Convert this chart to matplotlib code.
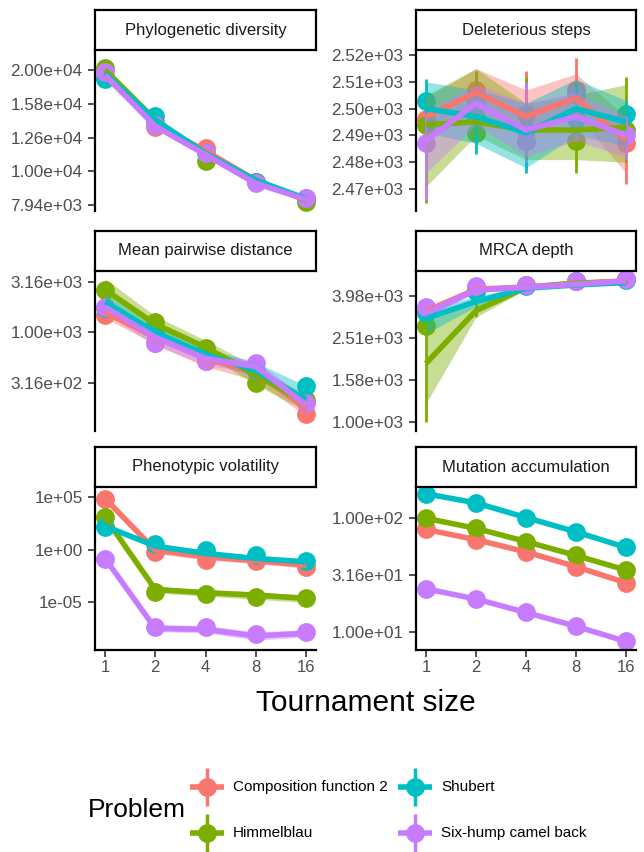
import matplotlib
matplotlib.use("Agg")
import matplotlib.pyplot as plt
from matplotlib.ticker import FixedLocator, NullLocator, FixedFormatter

plt.rcParams['font.family'] = ['Liberation Sans', 'DejaVu Sans']

tournament_sizes = [1, 2, 4, 8, 16]
problems = ["Composition function 2", "Himmelblau", "Shubert", "Six-hump camel back"]
colors = ["#F8766D", "#7CAE00", "#00BFC4", "#C77CFF"]

# ---- Phylogenetic diversity
phylo_pts = {
    "Composition function 2": [1.90e4, 1.35e4, 1.17e4, 9.3e3, 8.2e3],
    "Himmelblau": [2.03e4, 1.40e4, 1.07e4, 9.3e3, 8.1e3],
    "Shubert": [1.88e4, 1.46e4, 1.13e4, 9.3e3, 8.35e3],
    "Six-hump camel back": [1.97e4, 1.37e4, 1.13e4, 9.25e3, 8.3e3],
}
phylo_line = {
    "Composition function 2": [1.92e4, 1.38e4, 1.15e4, 9.4e3, 8.25e3],
    "Himmelblau": [2.00e4, 1.42e4, 1.12e4, 9.4e3, 8.2e3],
    "Shubert": [1.95e4, 1.42e4, 1.13e4, 9.4e3, 8.3e3],
    "Six-hump camel back": [1.93e4, 1.36e4, 1.12e4, 9.2e3, 8.25e3],
}

# ---- Deleterious steps
del_pts = {
    "Composition function 2": [2496, 2507, 2498, 2507, 2487],
    "Himmelblau": [2494, 2491, 2488, 2488, 2492],
    "Shubert": [2503, 2497, 2492, 2496, 2498],
    "Six-hump camel back": [2487, 2503, 2488, 2505, 2490],
}
del_line = {
    "Composition function 2": [2497, 2506, 2497, 2504, 2488],
    "Himmelblau": [2494, 2495, 2492, 2492, 2493],
    "Shubert": [2500, 2497, 2491, 2500, 2495],
    "Six-hump camel back": [2488, 2502, 2492, 2497, 2490],
}
del_lo = {
    "Composition function 2": [2488, 2499, 2490, 2498, 2476],
    "Himmelblau": [2471, 2490, 2481, 2481, 2480],
    "Shubert": [2491, 2487, 2478, 2490, 2486],
    "Six-hump camel back": [2476, 2494, 2482, 2488, 2482],
}
del_hi = {
    "Composition function 2": [2504, 2515, 2507, 2513, 2497],
    "Himmelblau": [2505, 2515, 2502, 2505, 2509],
    "Shubert": [2510, 2507, 2502, 2511, 2503],
    "Six-hump camel back": [2499, 2509, 2502, 2506, 2497],
}
del_err_lo = {
    "Composition function 2": [2490, 2500, 2490, 2488, 2472],
    "Himmelblau": [2465, 2487, 2480, 2476, 2480],
    "Shubert": [2490, 2483, 2476, 2490, 2486],
    "Six-hump camel back": [2466, 2494, 2480, 2488, 2481],
}
del_err_hi = {
    "Composition function 2": [2503, 2513, 2514, 2519, 2500],
    "Himmelblau": [2505, 2514, 2512, 2505, 2512],
    "Shubert": [2511, 2505, 2502, 2510, 2503],
    "Six-hump camel back": [2498, 2508, 2510, 2505, 2497],
}

# ---- Mean pairwise distance
mpd_pts = {
    "Composition function 2": [1479, 776, 513, 417, 155],
    "Himmelblau": [2630, 1259, 692, 316, 214],
    "Shubert": [1738, 1000, 562, 417, 295],
    "Six-hump camel back": [1778, 776, 513, 501, 200],
}
mpd_line = {
    "Composition function 2": [1585, 891, 550, 398, 178],
    "Himmelblau": [2630, 1202, 708, 380, 200],
    "Shubert": [1995, 1000, 603, 417, 214],
    "Six-hump camel back": [1778, 891, 550, 457, 191],
}
mpd_lo = {
    "Composition function 2": [1380, 759, 457, 331, 148],
    "Himmelblau": [2138, 1000, 603, 302, 166],
    "Shubert": [1660, 851, 525, 363, 178],
    "Six-hump camel back": [1514, 741, 468, 398, 162],
}
mpd_hi = {
    "Composition function 2": [1820, 1000, 631, 457, 209],
    "Himmelblau": [3388, 1445, 832, 457, 240],
    "Shubert": [2399, 1148, 692, 501, 295],
    "Six-hump camel back": [2089, 1047, 631, 525, 219],
}

# ---- MRCA depth
mrca_pts = {
    "Composition function 2": [3390, 4370, 4470, 4660, 4780],
    "Himmelblau": [2870, 4200, 4470, 4700, 4780],
    "Shubert": [3300, 4200, 4450, 4660, 4730],
    "Six-hump camel back": [3520, 4440, 4490, 4660, 4780],
}
mrca_line = {
    "Composition function 2": [3350, 4285, 4385, 4571, 4688],
    "Himmelblau": [1905, 3388, 4365, 4571, 4656],
    "Shubert": [3119, 3741, 4325, 4487, 4603],
    "Six-hump camel back": [3296, 4246, 4365, 4519, 4688],
}
mrca_lo = {
    "Composition function 2": [3160, 4170, 4315, 4520, 4620],
    "Himmelblau": [1230, 3160, 4265, 4470, 4570],
    "Shubert": [2630, 3550, 4265, 4415, 4520],
    "Six-hump camel back": [3160, 4120, 4265, 4470, 4620],
}
mrca_hi = {
    "Composition function 2": [3550, 4415, 4470, 4620, 4790],
    "Himmelblau": [3160, 3630, 4470, 4680, 4730],
    "Shubert": [3390, 3980, 4415, 4570, 4680],
    "Six-hump camel back": [3510, 4365, 4470, 4570, 4790],
}
mrca_err_lo = {"Himmelblau": [1000, 3160, 4265, 4470, 4570]}
mrca_err_hi = {"Himmelblau": [3060, 3800, 4470, 4680, 4730]}

# ---- Phenotypic volatility
pv_pts = {
    "Composition function 2": [7.9e4, 6.8e-1, 1.07e-1, 9.3e-2, 2.5e-2],
    "Himmelblau": [1.26e3, 1.05e-4, 6.3e-5, 3.5e-5, 2.4e-5],
    "Shubert": [1.38e2, 3.63, 9.55e-1, 3.24e-1, 9.3e-2],
    "Six-hump camel back": [1.26e-1, 4.2e-8, 4.2e-8, 1.0e-8, 1.6e-8],
}
pv_line = {
    "Composition function 2": [7.9e4, 9.5e-1, 2.24e-1, 9.3e-2, 3.6e-2],
    "Himmelblau": [1.26e3, 1.74e-4, 8.3e-5, 5.0e-5, 2.4e-5],
    "Shubert": [1.86e2, 2.34, 4.68e-1, 1.55e-1, 7.4e-2],
    "Six-hump camel back": [1.55e-1, 3.3e-8, 2.7e-8, 6.3e-9, 1.12e-8],
}
pv_lo = {
    "Composition function 2": [5.0e4, 4.47e-1, 1.12e-1, 5.0e-2, 1.78e-2],
    "Himmelblau": [7.94e2, 7.9e-5, 4.0e-5, 2.0e-5, 1.0e-5],
    "Shubert": [1.26e2, 1.58, 3.16e-1, 1.0e-1, 5.0e-2],
    "Six-hump camel back": [1.0e-1, 1.6e-8, 1.26e-8, 2.5e-9, 5.0e-9],
}
pv_hi = {
    "Composition function 2": [1.0e5, 1.58, 3.98e-1, 1.58e-1, 6.3e-2],
    "Himmelblau": [2.0e3, 3.2e-4, 1.6e-4, 1.0e-4, 5.0e-5],
    "Shubert": [2.82e2, 3.55, 7.08e-1, 2.51e-1, 1.12e-1],
    "Six-hump camel back": [2.51e-1, 7.9e-8, 6.3e-8, 1.6e-8, 2.5e-8],
}

# ---- Mutation accumulation
mut_pts = {
    "Composition function 2": [78.7, 64.1, 50.1, 37.2, 26.9],
    "Himmelblau": [98.6, 80.4, 61.7, 46.6, 34.7],
    "Shubert": [161.4, 134.3, 100.0, 75.0, 54.8],
    "Six-hump camel back": [23.8, 19.4, 14.8, 11.2, 8.26],
}

panels = [
    dict(title="Phylogenetic diversity", pts=phylo_pts, line=phylo_line,
         yticks=[19952.6, 15848.9, 12589.3, 10000.0, 7943.3], ylim=(7620, 22900), fmt="{:.2e}"),
    dict(title="Deleterious steps", pts=del_pts, line=del_line, lo=del_lo, hi=del_hi,
         err_lo=del_err_lo, err_hi=del_err_hi,
         yticks=[2520, 2510, 2500, 2490, 2480, 2470], ylim=(2462, 2522), fmt="{:.2e}"),
    dict(title="Mean pairwise distance", pts=mpd_pts, line=mpd_line, lo=mpd_lo, hi=mpd_hi,
         yticks=[3162.3, 1000.0, 316.2], ylim=(105, 4040), fmt="{:.2e}"),
    dict(title="MRCA depth", pts=mrca_pts, line=mrca_line, lo=mrca_lo, hi=mrca_hi,
         err_lo=mrca_err_lo, err_hi=mrca_err_hi,
         yticks=[3981.1, 2511.9, 1584.9, 1000.0], ylim=(910, 5225), fmt="{:.2e}"),
    dict(title="Phenotypic volatility", pts=pv_pts, line=pv_line, lo=pv_lo, hi=pv_hi,
         yticks=[1e5, 1e0, 1e-5], ylim=(2.9e-10, 1e6), fmt="{:.0e}"),
    dict(title="Mutation accumulation", pts=mut_pts, line=mut_pts,
         yticks=[100.0, 31.62, 10.0], ylim=(6.95, 185), fmt="{:.2e}"),
]

W, H = 644, 852
fig = plt.figure(figsize=(W / 100, H / 100), dpi=100)

col_x = [95, 416]
col_w = [221, 220]
rows = [(50, 211), (271, 431), (487, 650)]
strip_h = 40

for i, p in enumerate(panels):
    r, c = divmod(i, 2)
    top, bot = rows[r]
    ax = fig.add_axes([col_x[c] / W, 1 - bot / H, col_w[c] / W, (bot - top) / H])
    for prob, col in zip(problems, colors):
        ax.plot(tournament_sizes, p["pts"][prob], "o", ms=12.5, color=col, zorder=2)
        if "err_lo" in p and prob in p["err_lo"]:
            ax.vlines(tournament_sizes, p["err_lo"][prob], p["err_hi"][prob],
                      color=col, lw=2, zorder=2.5)
    if "lo" in p:
        for prob, col in zip(problems, colors):
            ax.fill_between(tournament_sizes, p["lo"][prob], p["hi"][prob],
                            color=col, alpha=0.42, lw=0, zorder=3)
    for prob, col in zip(problems, colors):
        ax.plot(tournament_sizes, p["line"][prob], "-", lw=4, color=col,
                solid_capstyle="butt", zorder=4)

    ax.set_xscale("log", base=2)
    ax.set_yscale("log")
    ax.set_xlim(2 ** -0.2, 2 ** 4.2)
    ax.set_ylim(*p["ylim"])
    ax.yaxis.set_major_locator(FixedLocator(p["yticks"]))
    ax.yaxis.set_major_formatter(FixedFormatter([p["fmt"].format(v) for v in p["yticks"]]))
    ax.yaxis.set_minor_locator(NullLocator())
    ax.xaxis.set_minor_locator(NullLocator())
    for s in ["top", "right"]:
        ax.spines[s].set_visible(False)
    ax.spines["left"].set_linewidth(1.6)
    ax.spines["bottom"].set_linewidth(1.6)
    ax.tick_params(axis="y", length=5, width=1.2, pad=4, labelsize=12.3,
                   labelcolor="#4D4D4D", color="#333333")
    if r == 2:
        ax.xaxis.set_major_locator(FixedLocator(tournament_sizes))
        ax.xaxis.set_major_formatter(FixedFormatter([str(t) for t in tournament_sizes]))
        ax.tick_params(axis="x", length=5, width=1.2, pad=2, labelsize=12,
                       labelcolor="#4D4D4D", color="#333333")
    else:
        ax.spines["bottom"].set_visible(False)
        ax.set_xticks([])

    sax = fig.add_axes([col_x[c] / W, 1 - top / H, col_w[c] / W, strip_h / H])
    sax.set_xticks([])
    sax.set_yticks([])
    for s in sax.spines.values():
        s.set_linewidth(1.6)
    sax.text(0.5, 0.5, p["title"], ha="center", va="center", fontsize=12,
             color="#1A1A1A", transform=sax.transAxes)

fig.text(365.5 / W, 1 - 703 / H, "Tournament size", ha="center", va="center", fontsize=21.5)

# legend drawn in pixel space
lax = fig.add_axes([0, 0, 1, 1])
lax.set_xlim(0, W)
lax.set_ylim(H, 0)
lax.axis("off")
lax.text(88, 810, "Problem", ha="left", va="center", fontsize=19)
key_x = [207, 415]
key_y = [787, 833]
for k, (prob, col) in enumerate(zip(problems, colors)):
    c, r = divmod(k, 2)
    kx, ky = key_x[c], key_y[r]
    lax.plot([kx - 17, kx + 17], [ky, ky], color=col, lw=4, solid_capstyle="butt")
    lax.plot([kx, kx], [ky - 19, ky + 19], color=col, lw=2.5, solid_capstyle="butt")
    lax.plot([kx], [ky], "o", ms=12.5, color=col)
    lax.text(kx + 26, ky, prob, ha="left", va="center", fontsize=11)

fig.savefig("out.png", dpi=100)
